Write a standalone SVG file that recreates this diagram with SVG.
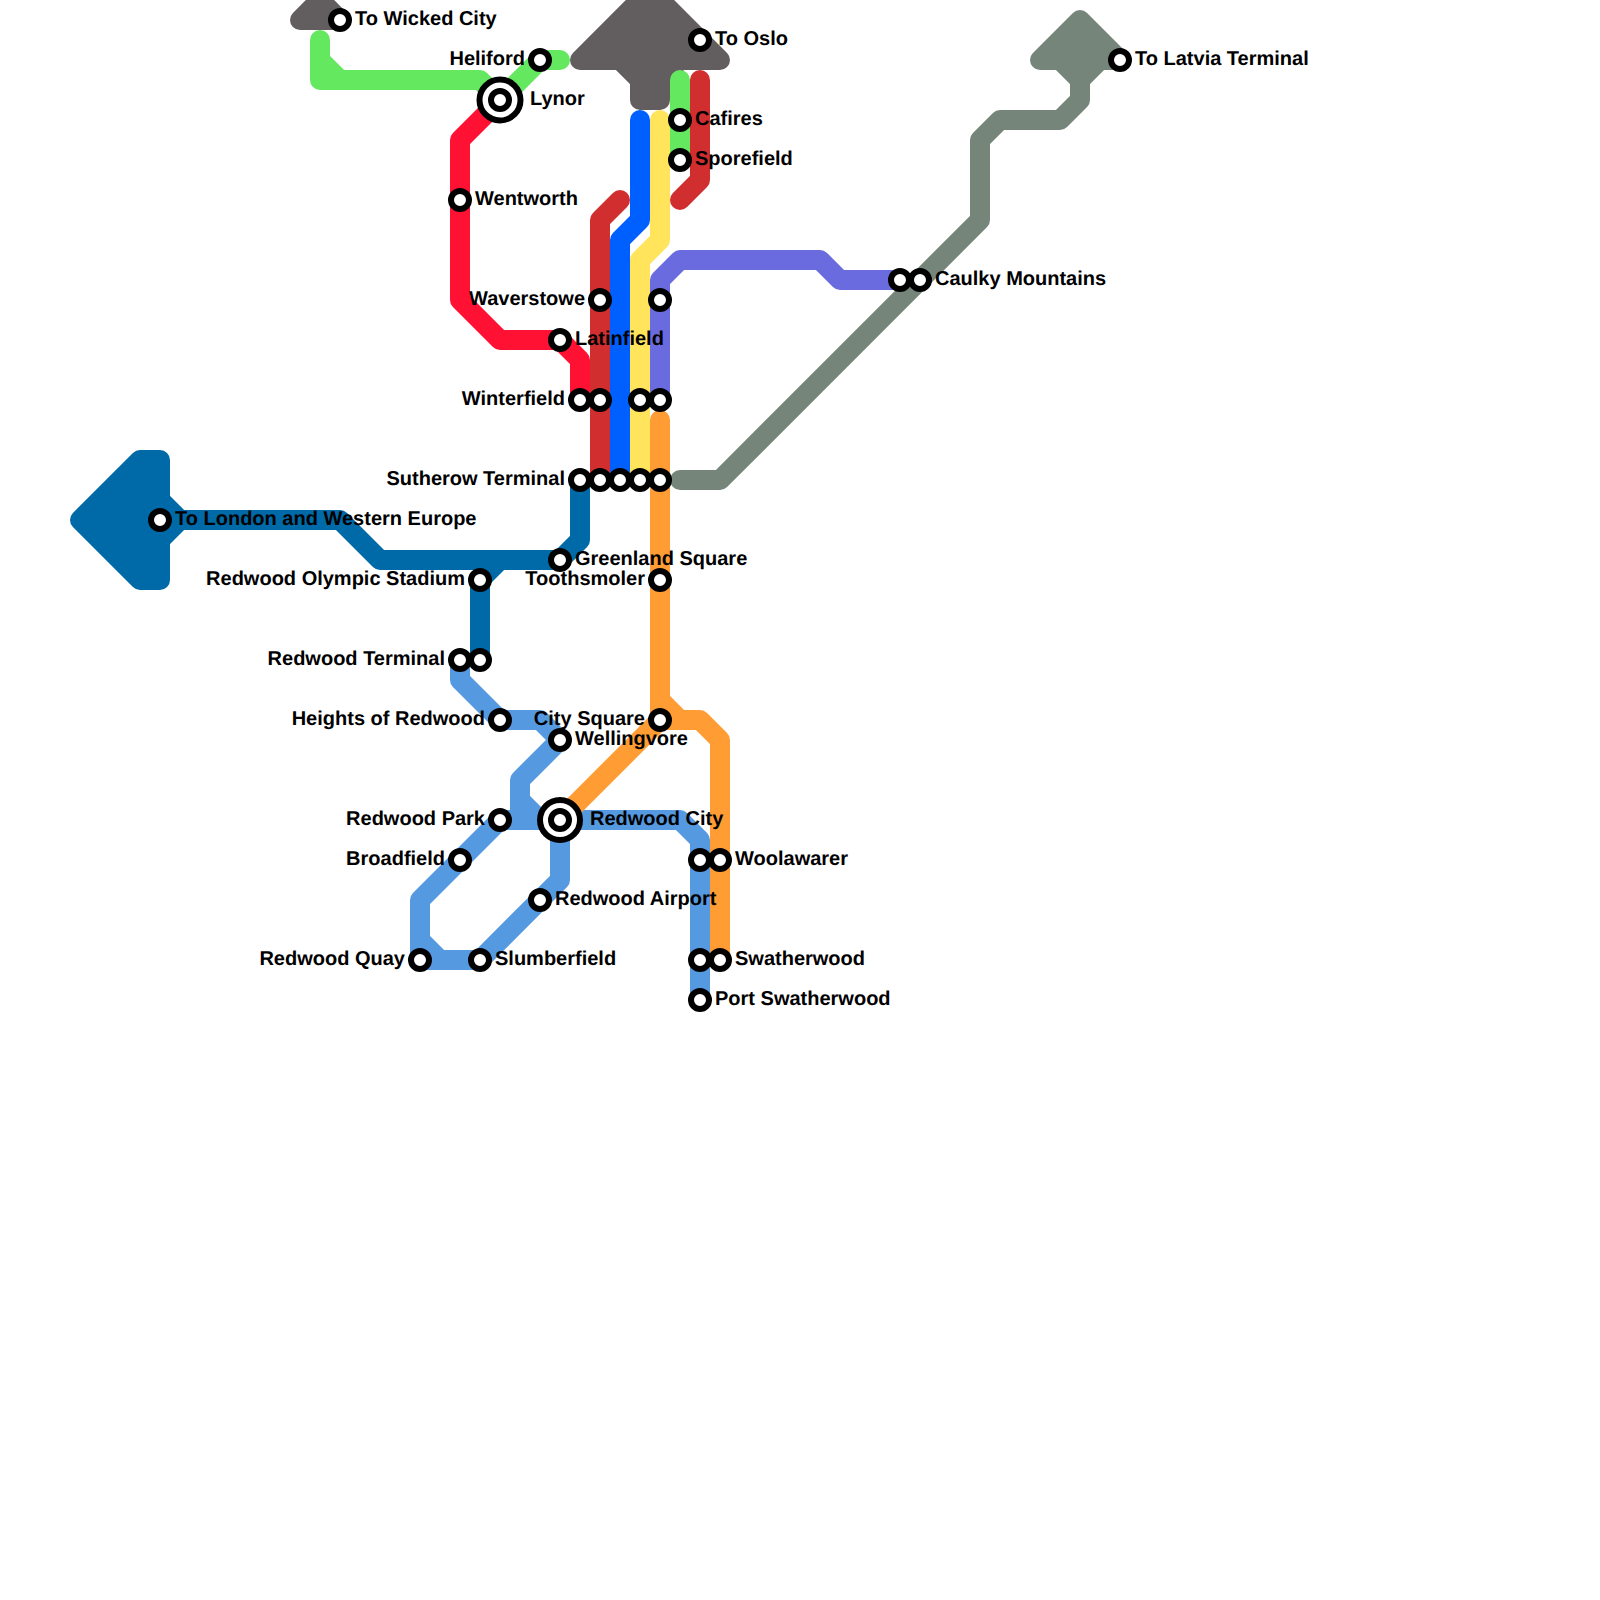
<svg xmlns="http://www.w3.org/2000/svg" width="1600" height="1600" viewBox="0 0 1600 1600">
<style>
.l{fill:none;stroke-width:20;stroke-linecap:round;stroke-linejoin:round}
.a{stroke-width:20;stroke-linejoin:round}
.s{fill:#fff;stroke:#000;stroke-width:6}
text{font-family:"Liberation Sans",Arial,sans-serif;font-weight:700;font-size:20px;fill:#000;text-rendering:geometricPrecision}
.e{text-anchor:end}
.gray{stroke:#625d5e;fill:#625d5e}.sagef{stroke:#75857a;fill:#75857a}.navyf{stroke:#0069a8;fill:#0069a8}
.sage{stroke:#75857a}.navy{stroke:#0069a8}
.green{stroke:#64e860}.red{stroke:#ff1133}.dred{stroke:#d12f2f}.blue{stroke:#005fff}.yellow{stroke:#ffe45c}.purple{stroke:#6b6be0}.orange{stroke:#ff9c33}.sky{stroke:#5599e0}
</style>
<g id="connectors">
<path class="a gray" d="M300 20L320 0L340 20Z"/>
<path class="a gray" d="M580 60L650 -10L720 60L680 60L660 80L660 100L640 100L640 80L620 60Z"/>
<path class="a sagef" d="M1040 60L1080 20L1120 60L1100 60L1080 80L1060 60Z"/>
<path class="a navyf" d="M80 520L140 460L160 460L160 500L180 520L160 540L160 580L140 580Z"/>
<path class="l navy" d="M180 520H340L380 560H560L580 540V480M480 660V580L500 560"/>
<path class="l green" d="M320 40V80H480L500 100M320 60L340 80M500 100L540 60H560M680 80V160"/>
<path class="l red" d="M500 100L460 140V300L500 340H560L580 360V400"/>
<path class="l dred" d="M700 80V180L680 200M620 200L600 220V480"/>
<path class="l blue" d="M640 120V220L620 240V480"/>
<path class="l yellow" d="M660 120V240L640 260V480"/>
<path class="l purple" d="M660 400V280L680 260H820L840 280H900"/>
<path class="l sky" d="M460 660V680L500 720H540L560 740L520 780V820M520 800L540 820M500 820H680L700 840V1000M500 820L420 900V960H480L560 880V820M420 940L440 960"/>
<path class="l orange" d="M660 420V720H700L720 740V960M660 700L680 720M660 720L560 820"/>
<path class="l sage" d="M680 480H720L980 220V140L1000 120H1060L1080 100V80"/>
</g>
<g id="st-wicked"><circle class="s" cx="340" cy="20" r="9"/><text x="355" y="25">To Wicked City</text></g>
<g id="st-oslo"><circle class="s" cx="700" cy="40" r="9"/><text x="715" y="45">To Oslo</text></g>
<g id="st-heliford"><circle class="s" cx="540" cy="60" r="9"/><text class="e" x="525" y="65">Heliford</text></g>
<g id="st-latvia"><circle class="s" cx="1120" cy="60" r="9"/><text x="1135" y="65">To Latvia Terminal</text></g>
<g id="st-lynor"><circle class="s" cx="500" cy="100" r="20.5"/><circle class="s" cx="500" cy="100" r="9"/><text x="530" y="105">Lynor</text></g>
<g id="st-cafires"><circle class="s" cx="680" cy="120" r="9"/><text x="695" y="125">Cafires</text></g>
<g id="st-sporefield"><circle class="s" cx="680" cy="160" r="9"/><text x="695" y="165">Sporefield</text></g>
<g id="st-wentworth"><circle class="s" cx="460" cy="200" r="9"/><text x="475" y="205">Wentworth</text></g>
<g id="st-caulky"><circle class="s" cx="900" cy="280" r="9"/><circle class="s" cx="920" cy="280" r="9"/><text x="935" y="285">Caulky Mountains</text></g>
<g id="st-waverstowe"><circle class="s" cx="600" cy="300" r="9"/><circle class="s" cx="660" cy="300" r="9"/><text class="e" x="585" y="305">Waverstowe</text></g>
<g id="st-latinfield"><circle class="s" cx="560" cy="340" r="9"/><text x="575" y="345">Latinfield</text></g>
<g id="st-winterfield"><circle class="s" cx="580" cy="400" r="9"/><circle class="s" cx="600" cy="400" r="9"/><circle class="s" cx="640" cy="400" r="9"/><circle class="s" cx="660" cy="400" r="9"/><text class="e" x="565" y="405">Winterfield</text></g>
<g id="st-sutherow"><circle class="s" cx="580" cy="480" r="9"/><circle class="s" cx="600" cy="480" r="9"/><circle class="s" cx="620" cy="480" r="9"/><circle class="s" cx="640" cy="480" r="9"/><circle class="s" cx="660" cy="480" r="9"/><text class="e" x="565" y="485">Sutherow Terminal</text></g>
<g id="st-london"><circle class="s" cx="160" cy="520" r="9"/><text x="175" y="525">To London and Western Europe</text></g>
<g id="st-greenland"><circle class="s" cx="560" cy="560" r="9"/><text x="575" y="565">Greenland Square</text></g>
<g id="st-toothsmoler"><circle class="s" cx="660" cy="580" r="9"/><text class="e" x="645" y="585">Toothsmoler</text></g>
<g id="st-olympic"><circle class="s" cx="480" cy="580" r="9"/><text class="e" x="465" y="585">Redwood Olympic Stadium</text></g>
<g id="st-terminal"><circle class="s" cx="460" cy="660" r="9"/><circle class="s" cx="480" cy="660" r="9"/><text class="e" x="445" y="665">Redwood Terminal</text></g>
<g id="st-heights"><circle class="s" cx="500" cy="720" r="9"/><text class="e" x="485" y="725">Heights of Redwood</text></g>
<g id="st-citysquare"><circle class="s" cx="660" cy="720" r="9"/><text class="e" x="645" y="725">City Square</text></g>
<g id="st-wellingvore"><circle class="s" cx="560" cy="740" r="9"/><text x="575" y="745">Wellingvore</text></g>
<g id="st-park"><circle class="s" cx="500" cy="820" r="9"/><text class="e" x="485" y="825">Redwood Park</text></g>
<g id="st-redwoodcity"><circle class="s" cx="560" cy="820" r="20"/><circle class="s" cx="560" cy="820" r="9"/><text x="590" y="825">Redwood City</text></g>
<g id="st-broadfield"><circle class="s" cx="460" cy="860" r="9"/><text class="e" x="445" y="865">Broadfield</text></g>
<g id="st-woolawarer"><circle class="s" cx="700" cy="860" r="9"/><circle class="s" cx="720" cy="860" r="9"/><text x="735" y="865">Woolawarer</text></g>
<g id="st-airport"><circle class="s" cx="540" cy="900" r="9"/><text x="555" y="905">Redwood Airport</text></g>
<g id="st-quay"><circle class="s" cx="420" cy="960" r="9"/><text class="e" x="405" y="965">Redwood Quay</text></g>
<g id="st-slumberfield"><circle class="s" cx="480" cy="960" r="9"/><text x="495" y="965">Slumberfield</text></g>
<g id="st-swatherwood"><circle class="s" cx="700" cy="960" r="9"/><circle class="s" cx="720" cy="960" r="9"/><text x="735" y="965">Swatherwood</text></g>
<g id="st-port"><circle class="s" cx="700" cy="1000" r="9"/><text x="715" y="1005">Port Swatherwood</text></g>
</svg>
